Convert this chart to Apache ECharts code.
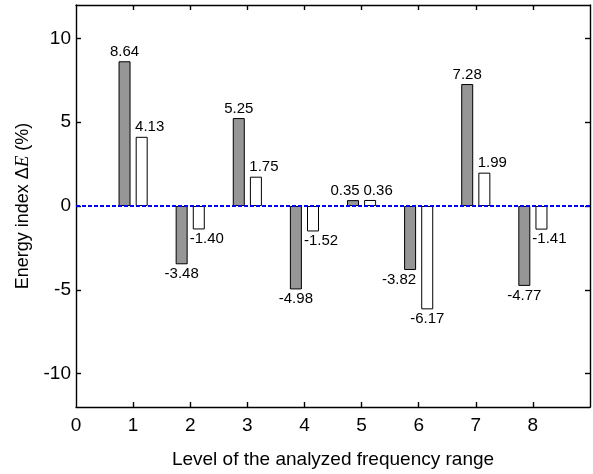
<!DOCTYPE html>
<html>
<head>
<meta charset="utf-8">
<title>Energy index by frequency level</title>
<script src="https://cdn.jsdelivr.net/npm/echarts@6/dist/echarts.min.js"></script>
<style>
  html, body { margin: 0; padding: 0; background: #fff; }
  #chart { width: 593px; height: 474px; }
</style>
</head>
<body>
<div id="chart"></div>
<script>
// Frequency range levels and energy index values (%)
const levels = [1, 2, 3, 4, 5, 6, 7, 8];
const grayValues = [8.64, -3.48, 5.25, -4.98, 0.35, -3.82, 7.28, -4.77];
const whiteValues = [4.13, -1.40, 1.75, -1.52, 0.36, -6.17, 1.99, -1.41];
const xTicks = [0, 1, 2, 3, 4, 5, 6, 7, 8];
const yTicks = [-10, -5, 0, 5, 10];

const FONT = 'Liberation Sans, Arial, Helvetica, sans-serif';

// horizontal nudges (px) for value labels that sit beside their bar
const grayNudge = { 5: -8, 6: -11 };
const whiteNudge = { default: 8, 6: 0 };

function buildData(values, shift, nudge) {
  return levels.map((lv, i) => {
    const v = values[i];
    const dx = nudge[lv] !== undefined ? nudge[lv] : (nudge.default || 0);
    return {
      value: [lv + shift, v],
      label: {
        position: v >= 0 ? 'top' : 'bottom',
        offset: [dx, 0],
        distance: 2
      }
    };
  });
}

const barLabel = {
  show: true,
  fontFamily: FONT,
  fontSize: 15,
  color: '#000',
  formatter: p => p.value[1].toFixed(2)
};

const chart = echarts.init(document.getElementById('chart'), null, { renderer: 'canvas' });

const axisLineStyle = { color: '#000', width: 1.4 };

chart.setOption({
  animation: false,
  backgroundColor: '#fff',
  grid: { left: 76, right: 3, top: 5, bottom: 64, containLabel: false },
  xAxis: [
    {
      type: 'value', min: 0, max: 9, interval: 1,
      name: 'Level of the analyzed frequency range',
      nameLocation: 'middle', nameGap: 43,
      nameTextStyle: { fontFamily: FONT, fontSize: 19, color: '#000' },
      axisLine: { show: true, onZero: false, lineStyle: axisLineStyle },
      axisTick: { show: true, inside: true, length: 5, lineStyle: axisLineStyle,
        customValues: xTicks.slice(1) },
      axisLabel: { fontFamily: FONT, fontSize: 19, color: '#000', margin: 9,
        customValues: xTicks, formatter: v => String(v) },
      splitLine: { show: false }
    },
    {
      type: 'value', min: 0, max: 9, interval: 1, position: 'top',
      axisLine: { show: true, onZero: false, lineStyle: axisLineStyle },
      axisTick: { show: true, inside: true, length: 5, lineStyle: axisLineStyle,
        customValues: xTicks.slice(1) },
      axisLabel: { show: false },
      splitLine: { show: false }
    }
  ],
  yAxis: [
    {
      type: 'value', min: -12, max: 12,
      name: 'Energy index Δ{i|E} (%)',
      nameLocation: 'middle', nameGap: 42, nameRotate: 90,
      nameTextStyle: {
        fontFamily: FONT, fontSize: 18, color: '#000',
        rich: { i: { fontFamily: 'Liberation Serif, Times New Roman, serif', fontStyle: 'italic', fontSize: 19, color: '#000' } }
      },
      axisLine: { show: true, onZero: false, lineStyle: axisLineStyle },
      axisTick: { show: true, inside: true, length: 5, lineStyle: axisLineStyle, customValues: yTicks },
      axisLabel: { fontFamily: FONT, fontSize: 19, color: '#000', margin: 5, customValues: yTicks },
      splitLine: { show: false }
    },
    {
      type: 'value', min: -12, max: 12, position: 'right',
      axisLine: { show: true, onZero: false, lineStyle: axisLineStyle },
      axisTick: { show: true, inside: true, length: 5, lineStyle: axisLineStyle, customValues: yTicks },
      axisLabel: { show: false },
      splitLine: { show: false }
    }
  ],
  series: [
    {
      name: 'gray',
      type: 'bar',
      barWidth: 12,
      barGap: '-100%',
      data: buildData(grayValues, -0.15, grayNudge),
      itemStyle: { color: '#969696', borderColor: '#000', borderWidth: 1 },
      label: barLabel,
      z: 2
    },
    {
      name: 'white',
      type: 'bar',
      barWidth: 12,
      barGap: '-100%',
      data: buildData(whiteValues, 0.15, whiteNudge),
      itemStyle: { color: '#ffffff', borderColor: '#000', borderWidth: 1 },
      label: barLabel,
      z: 2,
      markLine: {
        silent: true,
        symbol: 'none',
        label: { show: false },
        lineStyle: { color: '#0000ff', type: [4, 2], width: 2 },
        data: [{ yAxis: 0 }],
        z: 5
      }
    }
  ]
});
</script>
</body>
</html>
